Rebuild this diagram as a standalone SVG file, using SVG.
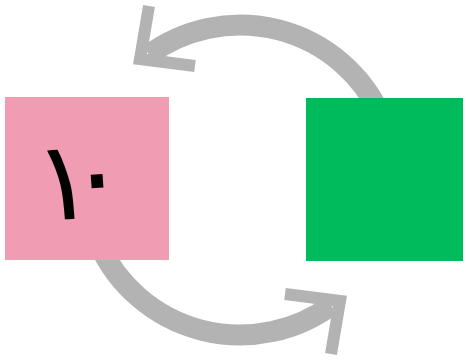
<svg xmlns="http://www.w3.org/2000/svg" width="466" height="360" viewBox="0 0 466 360">
<style>
.arc{fill:none;stroke:#b3b3b3;stroke-width:21;stroke-linecap:butt}
.head{fill:none;stroke:#b3b3b3;stroke-width:12;stroke-linejoin:miter;stroke-miterlimit:10;stroke-linecap:butt}
.lbl{font-family:"DejaVu Sans",sans-serif;font-size:110px;fill:#000}
</style>
<rect width="466" height="360" fill="#fff"/>
<g id="connectors">
<g id="arrow-top">
<path class="arc" d="M380.5,114.5 A155,155 0 0 0 148.9,54.6"/>
<polyline class="head" points="149,6 140,59 195,66"/>
</g>
<g id="arrow-bottom" transform="rotate(180 240 180)">
<path class="arc" d="M380.5,114.5 A155,155 0 0 0 148.9,54.6"/>
<polyline class="head" points="149,6 140,59 195,66"/>
</g>
</g>
<g id="node-pink">
<rect x="5" y="97" width="164" height="163" fill="#f09cb3"/>
<text class="lbl" transform="rotate(-4 82 182)"><tspan x="64" y="218" text-anchor="middle">١</tspan><tspan x="97" y="213" text-anchor="middle">٠</tspan></text>
</g>
<g id="node-green">
<rect x="306" y="98" width="157" height="163" fill="#00bb5b"/>
</g>
</svg>
